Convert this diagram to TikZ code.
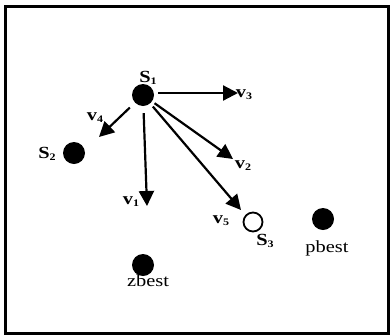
\documentclass[tikz,border=0pt]{standalone}
\usepackage{fontspec}
\setmainfont[FakeStretch=1.2]{Liberation Serif}
\usetikzlibrary{arrows.meta}
\newcommand{\lbl}[2]{\textbf{#1}\raisebox{-0.35ex}{\fontsize{10}{10}\selectfont\textbf{#2}}}
\begin{document}
\begin{tikzpicture}[x=1pt,y=-1pt,
  dot/.style={circle,fill=black,inner sep=0pt,minimum size=22pt},
  hollow/.style={circle,draw=black,line width=1.8pt,fill=white,inner sep=0pt,minimum size=19pt},
  lab/.style={anchor=base,inner sep=0pt,font=\fontsize{17}{17}\selectfont},
  vec/.style={line width=2.2pt,-{Triangle[length=15pt,width=15pt]},shorten <=5pt}]
\useasboundingbox (0,0) rectangle (390,335);
\draw[line width=3pt] (5.5,6.5) rectangle (388.5,333.5);
% particles
\node[dot] (s1) at (143,95) {};
\node[dot] (s2) at (74,153) {};
\node[hollow] (s3) at (253,222) {};
\node[dot] (pb) at (323,219) {};
\node[dot] (zb) at (143,265) {};
% velocity tips
\coordinate (t3) at (238,93);
\coordinate (t4) at (99,137);
\coordinate (t1) at (147,206);
\coordinate (t2) at (233,159);
\coordinate (t5) at (241,210);
\draw[vec,shorten <=4pt] (s1.east |- t3) -- (t3);
\draw[vec,shorten <=7pt] (s1) -- (t4);
\draw[vec,shorten <=7pt] (s1) -- (t1);
\draw[vec,shorten <=3pt] (s1) -- (t2);
\draw[vec,shorten <=4pt] (s1) -- (t5);
% labels
\node[lab] (ls1) at (148,82) {\lbl{S}{1}};
\node[lab] (ls2) at (47,158) {\lbl{S}{2}};
\node[lab] (ls3) at (265,245) {\lbl{S}{3}};
\node[lab] (lpb) at (327,252) {pbest};
\node[lab] (lzb) at (148,286) {zbest};
\node[lab] (lv3) at (244,97) {\lbl{v}{3}};
\node[lab] (lv4) at (95,120) {\lbl{v}{4}};
\node[lab] (lv2) at (243,168) {\lbl{v}{2}};
\node[lab] (lv1) at (131,204) {\lbl{v}{1}};
\node[lab] (lv5) at (221,223) {\lbl{v}{5}};
\end{tikzpicture}
\end{document}
